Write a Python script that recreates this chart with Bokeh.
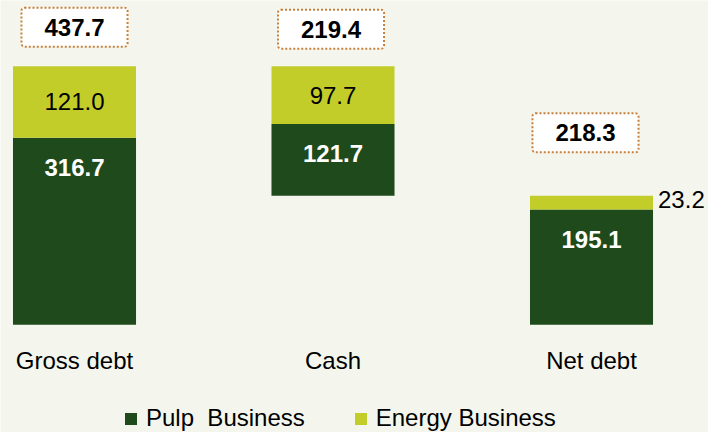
from bokeh.plotting import figure
from bokeh.models import ColumnDataSource, Range1d, Legend, LegendItem
from bokeh.embed import file_html
from bokeh.resources import INLINE

# ---- data ----
categories = ["Gross debt", "Cash", "Net debt"]
pulp = [316.7, 121.7, 195.1]
energy = [121.0, 97.7, 23.2]
totals = [437.7, 219.4, 218.3]
total_labels = ["437.7", "219.4", "218.3"]
pulp_labels = ["316.7", "121.7", "195.1"]
energy_labels = ["121.0", "97.7", "23.2"]
legend_labels = ["Pulp  Business", "Energy Business"]

# ---- style ----
FONT = "Liberation Sans"
FS = "24px"
DARK = "#1f4a1c"
LIME = "#c3cd2a"
BG = "#f4f6ee"
BOX_LINE = "#c8803c"
BAR_W = 0.476

x = list(range(len(categories)))
# waterfall: cash hangs from the top of gross debt
bases = [0.0, totals[0] - totals[1], 0.0]
pulp_top = [b + v for b, v in zip(bases, pulp)]
energy_top = [t + v for t, v in zip(pulp_top, energy)]
energy_mid = [(a + b) / 2 for a, b in zip(pulp_top, energy_top)]

src = ColumnDataSource(dict(x=x, base=bases, zero=[0.0] * len(x), cat=categories,
                            pulp_top=pulp_top, energy_top=energy_top,
                            pulp_lab=pulp_labels, tot_lab=total_labels, tot=energy_top,
                            box_dx=[0, -2, -6], box_dy=[-39, -37, -63]))

p = figure(width=708, height=432, output_backend="svg", toolbar_location=None,
           x_range=Range1d(-0.2863, 2.4526), y_range=Range1d(-182.3, 548.9),
           x_axis_location=None, y_axis_location=None,
           min_border=0,
           background_fill_color=BG, border_fill_color=BG, outline_line_color=None)
p.grid.visible = False

r_pulp = p.vbar(x="x", width=BAR_W, bottom="base", top="pulp_top", source=src,
                fill_color=DARK, line_color=None)
r_en = p.vbar(x="x", width=BAR_W, bottom="pulp_top", top="energy_top", source=src,
              fill_color=LIME, line_color=None)

# pulp values (white bold)
p.text(x="x", y="pulp_top", text="pulp_lab", source=src, y_offset=30,
       text_align="center", text_baseline="middle", text_color="white",
       text_font={"value": FONT}, text_font_style="bold", text_font_size=FS)

# energy values: inside when large enough, else beside the bar
thr = 0.1 * max(totals)
ins = [i for i, v in enumerate(energy) if v >= thr]
outs = [i for i, v in enumerate(energy) if v < thr]
src_in = ColumnDataSource(dict(x=[x[i] for i in ins], y=[energy_mid[i] for i in ins],
                               t=[energy_labels[i] for i in ins]))
src_out = ColumnDataSource(dict(x=[x[i] + BAR_W / 2 for i in outs], y=[energy_mid[i] for i in outs],
                                t=[energy_labels[i] for i in outs]))
p.text(x="x", y="y", text="t", source=src_in, text_align="center", text_baseline="middle",
       text_color="black", text_font={"value": FONT}, text_font_size=FS)
p.text(x="x", y="y", text="t", source=src_out, x_offset=5, y_offset=-3, text_align="left",
       text_baseline="middle", text_color="black", text_font={"value": FONT},
       text_font_size=FS)

# totals in dotted boxes
p.text(x="x", y="tot", text="tot_lab", source=src, x_offset="box_dx", y_offset="box_dy",
       text_align="center", text_baseline="middle", text_color="black",
       text_font={"value": FONT}, text_font_style="bold", text_font_size=FS,
       background_fill_color="white", border_line_color=BOX_LINE, border_line_width=2,
       border_line_dash="2 2", border_radius=3,
       padding=dict(left=23, right=23, top=11, bottom=11))

# category labels under the bars
p.text(x="x", y="zero", text="cat", source=src, y_offset=36,
       text_align="center", text_baseline="middle", text_color="black",
       text_font={"value": FONT}, text_font_size=FS)

legend = Legend(items=[LegendItem(label=legend_labels[0], renderers=[r_pulp]),
                       LegendItem(label=legend_labels[1], renderers=[r_en])],
                orientation="horizontal", location=(123, 0),
                glyph_width=15, glyph_height=15, label_standoff=8, spacing=48,
                padding=0, margin=0, border_line_color=None, background_fill_alpha=0,
                label_text_font=FONT, label_text_font_size=FS, label_text_color="black")
p.add_layout(legend, "center")

open("out.html", "w").write(file_html(p, INLINE))
